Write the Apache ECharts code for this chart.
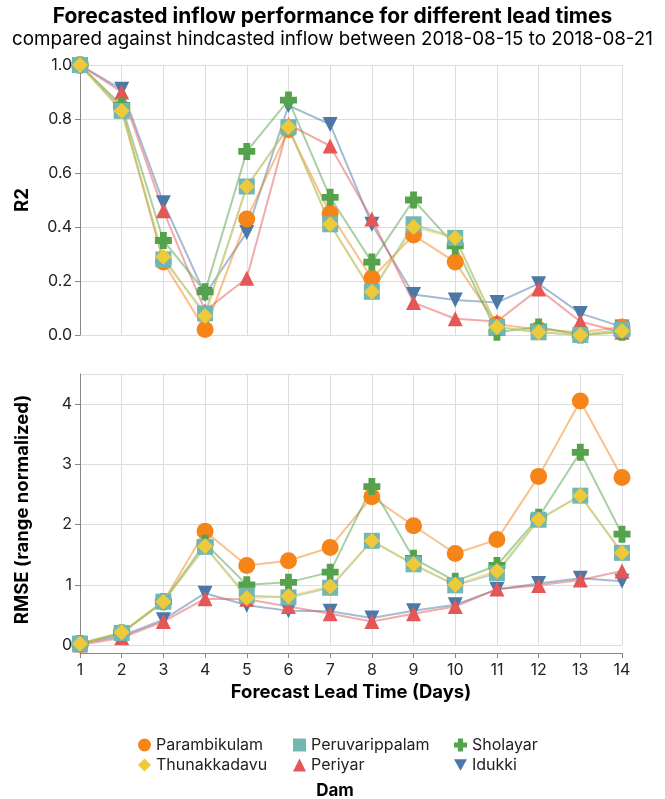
<!DOCTYPE html>
<html>
<head>
<meta charset="utf-8">
<script src="https://cdn.jsdelivr.net/npm/echarts@6/dist/echarts.min.js"></script>
<style>
  html, body {margin: 0; padding: 0; background: #fff;}
  #chart {width: 665px; height: 799px;}
</style>
</head>
<body>
<div id="chart"></div>
<script>
const days = [1, 2, 3, 4, 5, 6, 7, 8, 9, 10, 11, 12, 13, 14];
const dams = ['Parambikulam', 'Peruvarippalam', 'Sholayar', 'Thunakkadavu', 'Periyar', 'Idukki'];

// R2 per dam, lead time 1..14
const r2Parambikulam = [1.0, 0.84, 0.27, 0.02, 0.43, 0.76, 0.45, 0.21, 0.37, 0.27, 0.04, 0.02, 0.01, 0.03];
const r2Peruvarippalam = [1.0, 0.83, 0.28, 0.08, 0.55, 0.77, 0.41, 0.16, 0.41, 0.36, 0.03, 0.01, 0.0, 0.02];
const r2Sholayar = [1.0, 0.85, 0.35, 0.16, 0.68, 0.87, 0.51, 0.27, 0.50, 0.33, 0.01, 0.03, 0.0, 0.01];
const r2Thunakkadavu = [1.0, 0.83, 0.29, 0.07, 0.55, 0.77, 0.41, 0.16, 0.40, 0.36, 0.03, 0.01, 0.0, 0.015];
const r2Periyar = [1.0, 0.90, 0.46, 0.09, 0.21, 0.78, 0.70, 0.43, 0.12, 0.06, 0.05, 0.17, 0.05, 0.01];
const r2Idukki = [1.0, 0.91, 0.49, 0.15, 0.38, 0.85, 0.78, 0.41, 0.15, 0.13, 0.12, 0.19, 0.08, 0.03];

// RMSE (range normalized) per dam
const rmseParambikulam = [0.02, 0.20, 0.72, 1.89, 1.32, 1.40, 1.62, 2.46, 1.98, 1.52, 1.75, 2.80, 4.05, 2.78];
const rmsePeruvarippalam = [0.02, 0.20, 0.72, 1.63, 0.82, 0.79, 0.95, 1.73, 1.34, 0.99, 1.19, 2.08, 2.48, 1.53];
const rmseSholayar = [0.02, 0.20, 0.72, 1.69, 1.00, 1.04, 1.21, 2.63, 1.44, 1.06, 1.32, 2.12, 3.20, 1.84];
const rmseThunakkadavu = [0.02, 0.21, 0.72, 1.64, 0.78, 0.81, 0.97, 1.73, 1.34, 1.00, 1.23, 2.08, 2.48, 1.53];
const rmsePeriyar = [0.00, 0.12, 0.39, 0.77, 0.76, 0.64, 0.52, 0.39, 0.52, 0.64, 0.93, 0.99, 1.08, 1.23];
const rmseIdukki = [0.03, 0.15, 0.42, 0.86, 0.66, 0.57, 0.56, 0.45, 0.57, 0.67, 0.92, 1.02, 1.11, 1.06];

const r2 = {
    Parambikulam: r2Parambikulam, Peruvarippalam: r2Peruvarippalam, Sholayar: r2Sholayar,
    Thunakkadavu: r2Thunakkadavu, Periyar: r2Periyar, Idukki: r2Idukki
};
const rmse = {
    Parambikulam: rmseParambikulam, Peruvarippalam: rmsePeruvarippalam, Sholayar: rmseSholayar,
    Thunakkadavu: rmseThunakkadavu, Periyar: rmsePeriyar, Idukki: rmseIdukki
};

const colors = {
    Parambikulam: '#f58518', Peruvarippalam: '#72b7b2', Sholayar: '#54a24b',
    Thunakkadavu: '#eeca3b', Periyar: '#e45756', Idukki: '#4c78a8'
};
const crossPath = 'path://M3,0H7V3H10V7H7V10H3V7H0V3H3Z';
const downTri = 'path://M0,0L10,0L5,8.7Z';
const symbols = {
    Parambikulam: 'circle', Peruvarippalam: 'rect', Sholayar: crossPath,
    Thunakkadavu: 'diamond', Periyar: 'triangle', Idukki: downTri
};
const sizes = {
    Parambikulam: 17, Peruvarippalam: 16, Sholayar: 17,
    Thunakkadavu: 16, Periyar: 15, Idukki: 15
};
// drawing order (last on top)
const drawOrder = ['Idukki', 'Parambikulam', 'Periyar', 'Sholayar', 'Peruvarippalam', 'Thunakkadavu'];

const font = 'Inter, "Noto Sans", sans-serif';
const gridColor = '#dddddd';
const axisColor = '#888888';

const chart = echarts.init(document.getElementById('chart'));

const series = [];
[[r2, 0], [rmse, 1]].forEach(([src, idx]) => {
    drawOrder.forEach(name => {
        series.push({
            name: name, type: 'line', xAxisIndex: idx, yAxisIndex: idx,
            data: days.map((d, i) => [d, src[name][i]]),
            showSymbol: false, symbol: 'none',
            lineStyle: {color: colors[name], width: 2, opacity: 0.5},
            itemStyle: {color: colors[name]},
            z: 2, silent: true, animation: false
        });
    });
    drawOrder.forEach(name => {
        series.push({
            name: name, type: 'scatter', xAxisIndex: idx, yAxisIndex: idx,
            data: days.map((d, i) => [d, src[name][i]]),
            symbol: symbols[name], symbolSize: sizes[name],
            itemStyle: {color: colors[name], opacity: 1},
            z: 3, silent: true, animation: false
        });
    });
});

const legendBase = {
    orient: 'vertical', top: 731, itemWidth: 13, itemHeight: 13, itemGap: 2,
    textStyle: {fontSize: 16, color: '#222', fontFamily: font, lineHeight: 18},
    selectedMode: false
};

chart.setOption({
    animation: false,
    title: [
        {
            text: 'Forecasted inflow performance for different lead times',
            subtext: 'compared against hindcasted inflow between 2018-08-15 to 2018-08-21',
            left: 'center', top: 1, itemGap: 3,
            textStyle: {fontSize: 21, fontWeight: 'bold', color: '#000', fontFamily: font},
            subtextStyle: {fontSize: 18.8, color: '#000', fontFamily: font}
        },
        {
            text: 'Dam', left: 330, top: 777, textAlign: 'center',
            textStyle: {fontSize: 17, fontWeight: 'bold', color: '#000', fontFamily: font}
        }
    ],
    legend: [
        Object.assign({left: 133, data: [{name: 'Parambikulam', icon: 'circle'}, {name: 'Thunakkadavu', icon: 'diamond'}]}, legendBase),
        Object.assign({left: 288, data: [{name: 'Peruvarippalam', icon: 'rect'}, {name: 'Periyar', icon: 'triangle'}]}, legendBase),
        Object.assign({left: 449, data: [{name: 'Sholayar', icon: crossPath}, {name: 'Idukki', icon: downTri}]}, legendBase)
    ],
    grid: [
        {left: 80, width: 542, top: 65, height: 270},
        {left: 80, width: 542, top: 374, height: 271}
    ],
    graphic: [
        // the RMSE axis line runs down to the offset x axis
        {type: 'line', shape: {x1: 80.5, y1: 645, x2: 80.5, y2: 653}, style: {stroke: axisColor, lineWidth: 1}, silent: true}
    ],
    xAxis: [
        {
            type: 'value', gridIndex: 0, min: 1, max: 14, interval: 1,
            axisLine: {show: false}, axisTick: {show: false}, axisLabel: {show: false},
            splitLine: {show: true, lineStyle: {color: gridColor, width: 1}}
        },
        {
            type: 'value', gridIndex: 1, min: 1, max: 14, interval: 1, offset: 8,
            axisLine: {show: true, onZero: false, lineStyle: {color: axisColor}},
            axisTick: {show: true, length: 5, lineStyle: {color: axisColor}},
            axisLabel: {fontSize: 16, color: '#222', fontFamily: font, margin: 9},
            splitLine: {show: true, lineStyle: {color: gridColor, width: 1}},
            name: 'Forecast Lead Time (Days)', nameLocation: 'middle', nameGap: 30,
            nameTextStyle: {fontSize: 18.5, fontWeight: 'bold', color: '#000', fontFamily: font}
        }
    ],
    yAxis: [
        {
            type: 'value', gridIndex: 0, min: 0, max: 1, interval: 0.2,
            axisLine: {show: true, lineStyle: {color: axisColor}},
            axisTick: {show: true, length: 5, lineStyle: {color: axisColor}},
            axisLabel: {fontSize: 16, color: '#222', fontFamily: font, margin: 8,
                formatter: v => v.toFixed(1)},
            splitLine: {show: true, lineStyle: {color: gridColor, width: 1}},
            name: 'R2', nameLocation: 'middle', nameGap: 48,
            nameTextStyle: {fontSize: 18.5, fontWeight: 'bold', color: '#000', fontFamily: font}
        },
        {
            type: 'value', gridIndex: 1, min: 0, max: 4.5, interval: 1,
            axisLine: {show: true, lineStyle: {color: axisColor}},
            axisTick: {show: true, length: 5, lineStyle: {color: axisColor}},
            axisLabel: {fontSize: 16, color: '#222', fontFamily: font, margin: 8, showMaxLabel: false},
            splitLine: {show: true, lineStyle: {color: gridColor, width: 1}},
            name: 'RMSE (range normalized)', nameLocation: 'middle', nameGap: 48,
            nameTextStyle: {fontSize: 18.5, fontWeight: 'bold', color: '#000', fontFamily: font}
        }
    ],
    series: series
});
</script>
</body>
</html>
